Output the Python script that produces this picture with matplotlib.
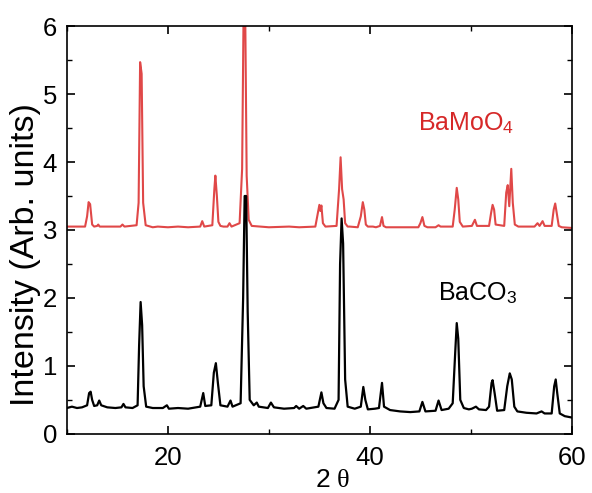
import numpy as np
import matplotlib.pyplot as plt
from matplotlib.ticker import MultipleLocator

plt.rcParams['font.family'] = ['Liberation Sans', 'DejaVu Sans']
plt.rcParams['mathtext.fontset'] = 'custom'
plt.rcParams['mathtext.rm'] = 'Liberation Sans'
plt.rcParams['mathtext.it'] = 'Liberation Serif'

# BaMoO4 pattern, points (2 theta, intensity)
bamoo4_x = [10.0, 11.8, 12.0, 12.15, 12.3, 12.5, 12.7, 13.0, 13.1, 13.25, 15.3, 15.5, 15.7,
            16.9, 17.1, 17.25, 17.4, 17.55, 17.8, 18.5, 19.0, 20.0, 21.0, 22.0,
            23.2, 23.4, 23.6, 24.4, 24.6, 24.7, 24.85, 25.0, 25.2, 25.5, 25.9, 26.1, 26.3,
            27.1, 27.35, 27.5, 27.65, 27.8, 28.0, 28.3, 30.0, 32.0, 33.0, 34.6,
            34.85, 35.0, 35.1, 35.2, 35.35, 35.6, 36.7, 36.95, 37.1, 37.25, 37.4, 37.55, 37.8,
            38.0, 38.8, 39.1, 39.3, 39.45, 39.6, 39.8, 40.3, 40.6, 41.0, 41.2, 41.35, 41.6,
            43.0, 44.8, 45.0, 45.2, 45.4, 45.7, 46.5, 46.8, 47.0, 48.2,
            48.4, 48.6, 48.75, 48.9, 49.2, 50.1, 50.4, 50.6, 51.8,
            52.0, 52.15, 52.3, 52.45, 53.3, 53.5, 53.65, 53.8, 54.0, 54.15, 54.35, 54.7,
            56.3, 56.6, 56.8, 57.1, 57.3, 58.0, 58.2, 58.35, 58.5, 58.7, 59.0, 60.0]
bamoo4_y = [3.05, 3.05, 3.2, 3.41, 3.38, 3.08, 3.05, 3.06, 3.08, 3.05, 3.05, 3.08, 3.05,
            3.07, 3.4, 5.47, 5.3, 3.4, 3.07, 3.04, 3.05, 3.04, 3.05, 3.04,
            3.05, 3.13, 3.05, 3.07, 3.6, 3.8, 3.5, 3.12, 3.06, 3.05, 3.05, 3.1, 3.05,
            3.1, 3.9, 6.3, 6.3, 3.8, 3.15, 3.06, 3.04, 3.05, 3.04, 3.05,
            3.25, 3.37, 3.28, 3.36, 3.1, 3.05, 3.06, 3.6, 4.07, 3.6, 3.45, 3.1, 3.05,
            3.05, 3.04, 3.2, 3.41, 3.3, 3.08, 3.05, 3.05, 3.04, 3.06, 3.19, 3.06, 3.04,
            3.04, 3.04, 3.1, 3.19, 3.06, 3.04, 3.04, 3.07, 3.05, 3.05,
            3.3, 3.62, 3.45, 3.12, 3.05, 3.06, 3.15, 3.06, 3.06,
            3.25, 3.37, 3.3, 3.08, 3.06, 3.55, 3.66, 3.35, 3.9, 3.4, 3.08, 3.05,
            3.05, 3.1, 3.06, 3.13, 3.06, 3.06, 3.3, 3.39, 3.25, 3.06, 3.04, 3.03]

# BaCO3 pattern
baco3_x = [10.0, 10.5, 11.0, 11.5, 12.0, 12.2, 12.35, 12.5, 12.7, 13.0, 13.2, 13.4, 14.0,
           14.8, 15.4, 15.6, 15.8, 16.5, 17.0, 17.15, 17.3, 17.45, 17.6, 17.85, 18.5,
           19.5, 19.9, 20.1, 21.0, 22.0, 23.2, 23.5, 23.7, 24.3, 24.55, 24.75, 24.95, 25.2,
           25.9, 26.2, 26.4, 27.2, 27.45, 27.6, 27.75, 27.9, 28.1, 28.5, 28.8, 29.0,
           29.9, 30.2, 30.5, 31.5, 32.5, 32.7, 33.0, 33.4, 33.7, 34.9, 35.2, 35.4, 35.7,
           36.5, 36.9, 37.05, 37.2, 37.35, 37.55, 37.8, 38.5, 39.1, 39.35, 39.55, 39.8,
           40.5, 40.9, 41.2, 41.4, 42.0, 43.0, 44.0, 44.9, 45.2, 45.5, 46.5, 46.8, 47.1,
           47.8, 48.2, 48.45, 48.6, 48.75, 48.95, 49.3, 49.8, 50.1, 50.5, 50.8, 51.5,
           51.8, 52.05, 52.15, 52.35, 52.6, 53.3, 53.6, 53.85, 54.05, 54.3, 54.6,
           55.5, 56.5, 57.0, 57.3, 58.0, 58.25, 58.4, 58.55, 58.8, 59.3, 60.0]
baco3_y = [0.38, 0.4, 0.38, 0.39, 0.42, 0.6, 0.62, 0.5, 0.41, 0.42, 0.49, 0.42, 0.39,
           0.38, 0.39, 0.44, 0.39, 0.38, 0.42, 1.3, 1.94, 1.6, 0.7, 0.4, 0.38,
           0.38, 0.42, 0.37, 0.38, 0.37, 0.4, 0.6, 0.41, 0.42, 0.9, 1.04, 0.75, 0.42,
           0.4, 0.49, 0.4, 0.45, 2.0, 3.5, 3.5, 1.8, 0.5, 0.42, 0.46, 0.4,
           0.38, 0.46, 0.39, 0.37, 0.38, 0.41, 0.37, 0.41, 0.37, 0.4, 0.61, 0.45, 0.38,
           0.37, 0.5, 2.5, 3.17, 2.8, 0.8, 0.4, 0.37, 0.4, 0.69, 0.5, 0.36,
           0.37, 0.38, 0.75, 0.4, 0.35, 0.33, 0.32, 0.33, 0.47, 0.33, 0.34, 0.49, 0.35,
           0.37, 0.45, 1.2, 1.63, 1.4, 0.5, 0.38, 0.36, 0.37, 0.4, 0.36, 0.35,
           0.4, 0.75, 0.79, 0.6, 0.34, 0.35, 0.7, 0.89, 0.8, 0.4, 0.33,
           0.31, 0.3, 0.33, 0.3, 0.3, 0.7, 0.8, 0.6, 0.3, 0.26, 0.24]

fig, ax = plt.subplots(figsize=(5.92, 4.93), dpi=100)
fig.subplots_adjust(left=0.113, right=0.966, top=0.947, bottom=0.12)

ax.plot(bamoo4_x, bamoo4_y, color='#e04848', lw=1.5)
ax.plot(baco3_x, baco3_y, color='black', lw=1.6)

ax.text(44.8, 4.57, 'BaMoO$_4$', color='#d62828', fontsize=18, va='center')
ax.text(46.7, 2.07, 'BaCO$_3$', color='black', fontsize=18, va='center')

ax.set_xlim(10, 60)
ax.set_ylim(0, 6)
ax.xaxis.set_major_locator(MultipleLocator(20))
ax.xaxis.set_minor_locator(MultipleLocator(10))
ax.yaxis.set_major_locator(MultipleLocator(1))
ax.yaxis.set_minor_locator(MultipleLocator(0.5))
ax.tick_params(which='both', direction='in', top=True, right=True, labelsize=18.5)
ax.tick_params(which='major', length=6, width=1.2)
ax.tick_params(axis='x', which='major', pad=9)
ax.tick_params(axis='y', which='major', pad=7)
ax.tick_params(which='minor', length=3.5, width=1.0)
ax.set_xlabel(r'2 $\theta$', fontsize=19)
ax.xaxis.set_label_coords(0.527, -0.085)
ax.set_ylabel('Intensity (Arb. units)', fontsize=24.5)
ax.yaxis.set_label_coords(-0.052, 0.44)
for s in ax.spines.values():
    s.set_linewidth(1.2)

plt.savefig('out.png', dpi=100)
